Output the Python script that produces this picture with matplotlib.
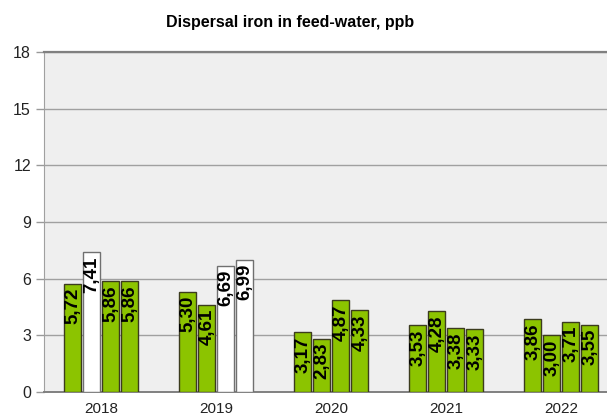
import numpy as np
import matplotlib
matplotlib.use("Agg")
import matplotlib.pyplot as plt

plt.rcParams['font.family'] = ['Liberation Sans', 'DejaVu Sans']

years = ['2018', '2019', '2020', '2021', '2022']
bar1 = [5.72, 5.30, 3.17, 3.53, 3.86]
bar2 = [7.41, 4.61, 2.83, 4.28, 3.00]
bar3 = [5.86, 6.69, 4.87, 3.38, 3.71]
bar4 = [5.86, 6.99, 4.33, 3.33, 3.55]
# bars drawn white in the original (year index, bar index)
white_bars = [(0, 1), (1, 2), (1, 3)]

series = [bar1, bar2, bar3, bar4]

green = '#8cc400'
fig = plt.figure(figsize=(6.07, 4.18), dpi=100)
ax = fig.add_axes([43.5 / 607, 26 / 418, 575 / 607, 340 / 418])
ax.set_facecolor('#efefef')

x = np.arange(len(years))
step = 0.166
for j, vals in enumerate(series):
    pos = x + (j - 1.5) * step
    for i, v in enumerate(vals):
        fc = 'white' if (i, j) in white_bars else green
        ec = '#707070' if fc == 'white' else '#3c3c1e'
        ax.bar(pos[i], v, width=step - 0.012, color=fc, edgecolor=ec,
               linewidth=1.0, zorder=3)
        ax.text(pos[i] + 0.005, v - 0.22, f'{v:.2f}'.replace('.', ','), rotation=90,
                ha='center', va='top', fontsize=13.5, fontweight='bold',
                color='black', zorder=4)

ax.set_xlim(-0.5, len(years) - 0.5)
ax.set_ylim(0, 18)
ax.set_yticks(range(0, 19, 3))
ax.set_xticks(x)
ax.set_xticklabels(years)
ax.tick_params(axis='x', length=0, pad=7, labelsize=11, colors='#222222')
ax.tick_params(axis='y', length=6, width=1, color='#999999', labelsize=11.5,
               labelcolor='#222222', pad=3)
ax.yaxis.grid(True, color='#a0a0a0', linewidth=1.0, zorder=0)
ax.set_axisbelow(True)

ax.spines['right'].set_visible(False)
ax.spines['top'].set_color('#808080')
ax.spines['top'].set_linewidth(1.6)
ax.spines['left'].set_color('#a0a0a0')
ax.spines['bottom'].set_color('#808080')
ax.spines['bottom'].set_linewidth(1.4)

fig.text(290 / 607, 1 - 22 / 418, 'Dispersal iron in feed-water, ppb',
         ha='center', va='center', fontsize=11.5, fontweight='bold')

fig.savefig('out.png', dpi=100)
